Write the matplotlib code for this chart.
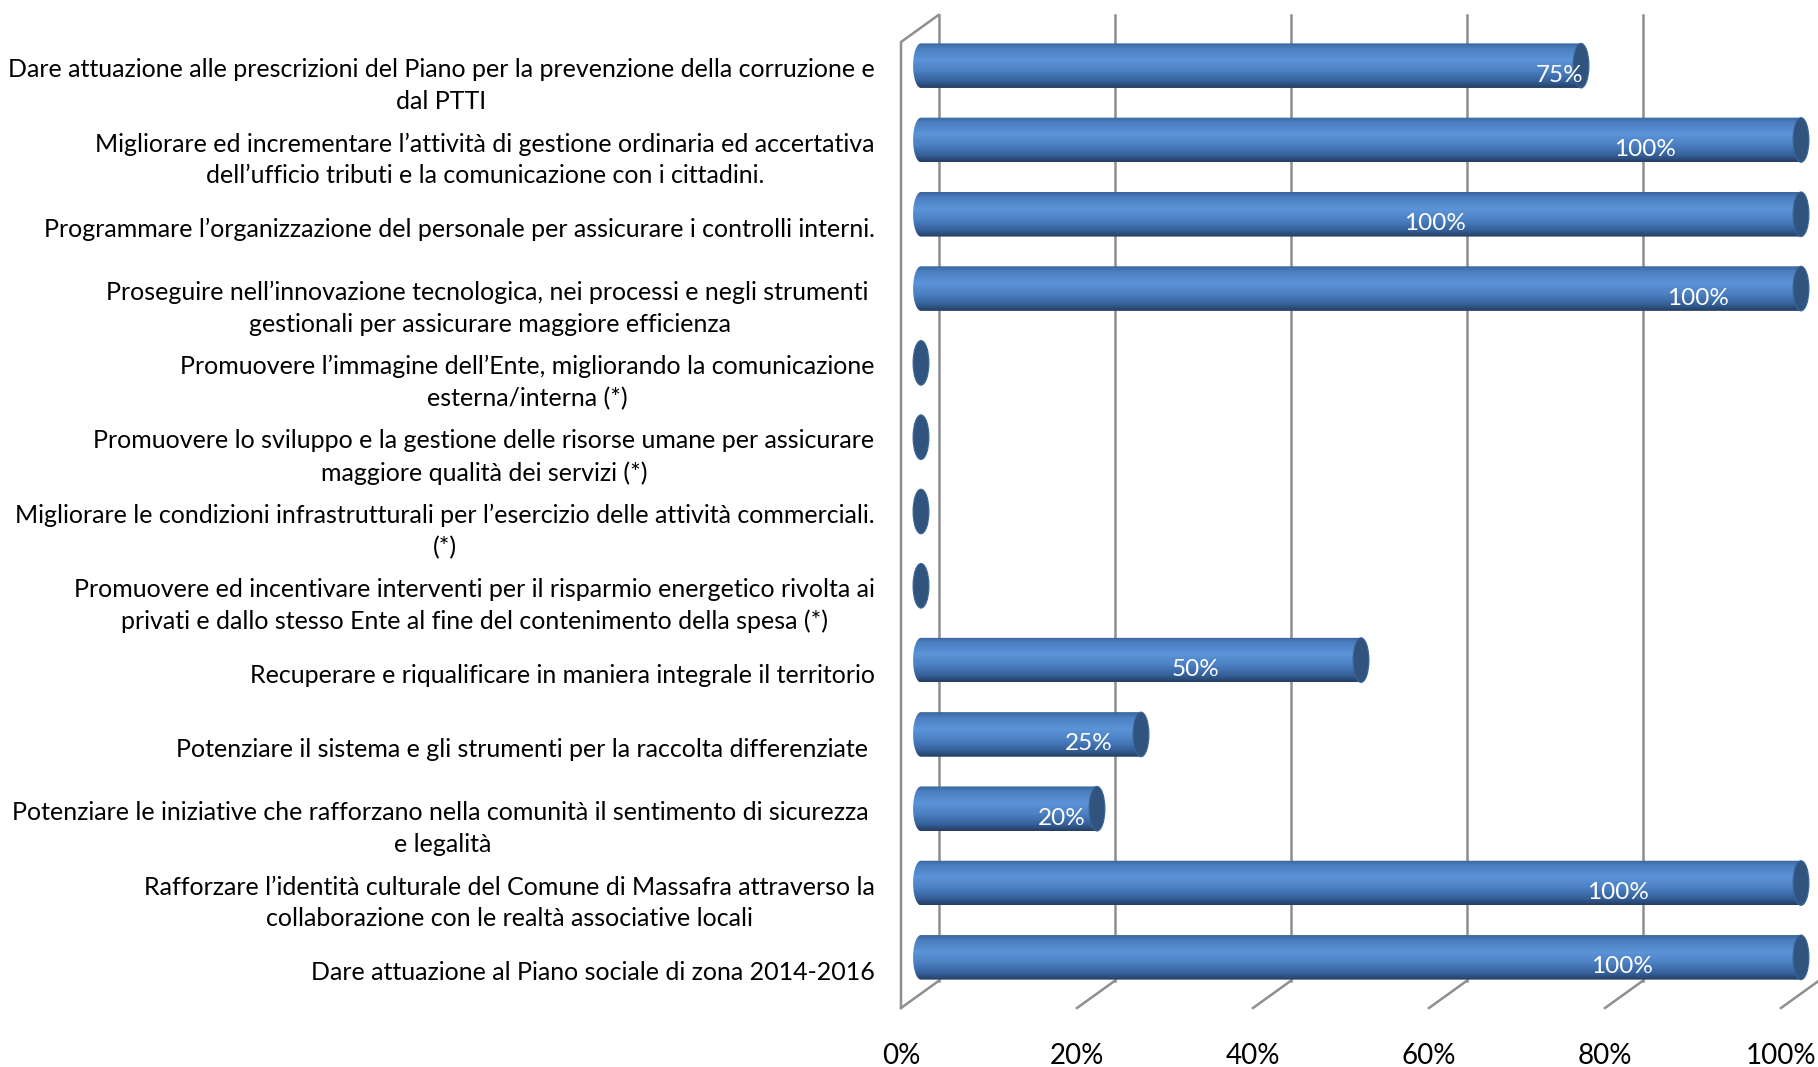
import numpy as np
import matplotlib
matplotlib.use("Agg")
import matplotlib.pyplot as plt
from matplotlib.colors import LinearSegmentedColormap
from matplotlib.patches import Ellipse, PathPatch
from matplotlib.path import Path
from matplotlib.transforms import offset_copy

categories = [
    "Dare attuazione alle prescrizioni del Piano per la prevenzione della corruzione e\ndal PTTI",
    "Migliorare ed incrementare l’attività di gestione ordinaria ed accertativa\ndell’ufficio tributi e la comunicazione con i cittadini.",
    "Programmare l’organizzazione del personale per assicurare i controlli interni.",
    "Proseguire nell’innovazione tecnologica, nei processi e negli strumenti \ngestionali per assicurare maggiore efficienza",
    "Promuovere l’immagine dell’Ente, migliorando la comunicazione\nesterna/interna (*)",
    "Promuovere lo sviluppo e la gestione delle risorse umane per assicurare\nmaggiore qualità dei servizi (*)",
    "Migliorare le condizioni infrastrutturali per l’esercizio delle attività commerciali.\n(*)",
    "Promuovere ed incentivare interventi per il risparmio energetico rivolta ai\nprivati e dallo stesso Ente al fine del contenimento della spesa (*)",
    "Recuperare e riqualificare in maniera integrale il territorio",
    "Potenziare il sistema e gli strumenti per la raccolta differenziate ",
    "Potenziare le iniziative che rafforzano nella comunità il sentimento di sicurezza \ne legalità",
    "Rafforzare l’identità culturale del Comune di Massafra attraverso la\ncollaborazione con le realtà associative locali",
    "Dare attuazione al Piano sociale di zona 2014-2016",
]
values = [75, 100, 100, 100, 0, 0, 0, 0, 50, 25, 20, 100, 100]
xticks = [0, 20, 40, 60, 80, 100]

# where each value label sits along the bar (percent units)
label_pos = [74.8, 84.6, 60.7, 90.6, 0, 0, 0, 0, 33.5, 21.3, 18.3, 81.5, 81.9]

plt.rcParams["font.family"] = ["Lato", "DejaVu Sans"]

fig = plt.figure(figsize=(18.18, 10.67), dpi=100)
ax = fig.add_axes([901 / 1818, 59 / 1067, 880 / 1818, 966 / 1067])
n = len(categories)
ax.set_xlim(0, 100)
ax.set_ylim(n - 0.5, -0.5)
for s in ax.spines.values():
    s.set_visible(False)

# fake 3d depth: back wall and bar centre shifted up-right in pixels
back = offset_copy(ax.transData, fig=fig, x=37.5, y=27, units="dots")
mid = offset_copy(ax.transData, fig=fig, x=20, y=13.5, units="dots")
to_data = ax.transData.inverted()

grey = "#8f8f8f"
top, bottom = -0.5, n - 0.5
for t in xticks:
    ax.plot([t, t], [top, bottom], color=grey, lw=1.8, transform=back,
            zorder=1, clip_on=False)
    bx, by = to_data.transform(back.transform((t, bottom)))
    ax.plot([t, bx], [bottom, by], color=grey, lw=1.8, zorder=1, clip_on=False)
# left wall edge
bx, by = to_data.transform(back.transform((0, top)))
ax.plot([0, 0, bx], [bottom, top, by], color=grey, lw=1.8, zorder=1, clip_on=False)

cyl = LinearSegmentedColormap.from_list("cyl", [
    (0.0, "#3a659e"), (0.12, "#4b7fc0"), (0.38, "#5b94d8"),
    (0.62, "#4c80c2"), (0.85, "#35609a"), (1.0, "#243d60")])
grad = np.linspace(0, 1, 256).reshape(-1, 1)
h = 0.3    # half bar thickness (category units)
ew = 0.9   # half width of the end ellipse (percent units)

for i, v in enumerate(values):
    if v > 0:
        th = np.linspace(np.pi / 2, 3 * np.pi / 2, 40)
        xs = np.concatenate([ew * np.cos(th), [v, v]])
        ys = np.concatenate([i - h * np.sin(th), [i + h, i - h]])
        body = PathPatch(Path(np.column_stack([xs, ys]), closed=False),
                         transform=mid, facecolor="none", edgecolor="none")
        ax.add_patch(body)
        im = ax.imshow(grad, cmap=cyl, aspect="auto", interpolation="bilinear",
                       extent=[-ew, v, i + h, i - h], transform=mid, zorder=3)
        im.set_clip_box(fig.bbox)
        im.set_clip_path(body)
    ax.add_patch(Ellipse((v, i), 2 * ew, 2 * h, transform=mid, clip_on=False,
                         facecolor="#31547f", edgecolor="#3b6497", lw=0.8, zorder=4))

lab_tr = offset_copy(ax.transData, fig=fig, x=0, y=4, units="dots")
for i, (v, p) in enumerate(zip(values, label_pos)):
    if v > 0:
        ax.text(p, i, f"{v}%", transform=lab_tr, ha="center", va="center",
                color="white", fontsize=17.5, zorder=5)

ax.set_xlim(0, 100)
ax.set_ylim(n - 0.5, -0.5)
ax.set_xticks(xticks, [f"{t}%" for t in xticks])
ax.set_yticks(range(n), categories)
ax.tick_params(axis="x", length=0, pad=25, labelsize=20)
ax.tick_params(axis="y", length=0, pad=19, labelsize=18)
for t in ax.get_yticklabels():
    t.set_multialignment("center")
    t.set_linespacing(1.45)

fig.savefig("out.png", dpi=100)
